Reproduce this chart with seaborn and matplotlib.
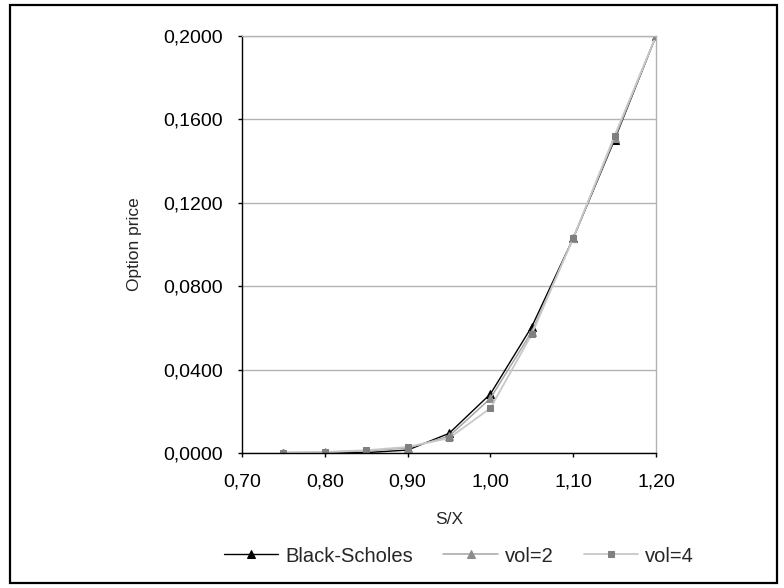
import matplotlib
matplotlib.use("Agg")
import matplotlib.pyplot as plt
import matplotlib.patches as mpatches
from matplotlib.ticker import FuncFormatter
import numpy as np
import pandas as pd
import seaborn as sns

# Moneyness S/X and option prices for each pricing approach
s_over_x = [0.75, 0.80, 0.85, 0.90, 0.95, 1.00, 1.05, 1.10, 1.15, 1.20]
black_scholes = [0.0000, 0.0000, 0.0002, 0.0014, 0.0094, 0.0283, 0.0606, 0.1030, 0.1503, 0.2000]
vol_2 = [0.0002, 0.0004, 0.0010, 0.0024, 0.0080, 0.0262, 0.0582, 0.1030, 0.1510, 0.2000]
vol_4 = [0.0002, 0.0005, 0.0013, 0.0029, 0.0071, 0.0215, 0.0570, 0.1031, 0.1522, 0.2000]

series_names = ["Black-Scholes", "vol=2", "vol=4"]
x_ticks = [0.70, 0.80, 0.90, 1.00, 1.10, 1.20]
y_ticks = [0.0000, 0.0400, 0.0800, 0.1200, 0.1600, 0.2000]

sns.set_style("white")
plt.rcParams["font.family"] = ["Liberation Sans", "DejaVu Sans"]
plt.rcParams["font.size"] = 14

df = pd.DataFrame({
    "S/X": s_over_x * 3,
    "price": black_scholes + vol_2 + vol_4,
    "series": np.repeat(series_names, len(s_over_x)),
})

fig = plt.figure(figsize=(7.84, 5.88), dpi=100)
ax = fig.add_axes([242 / 784, 1 - 453 / 588, 414 / 784, 417 / 588])

styles = {
    "Black-Scholes": dict(color="black", marker="^", markersize=6,
                          markerfacecolor="black", markeredgecolor="black", linewidth=1.0),
    "vol=2": dict(color="#A6A6A6", marker="^", markersize=6,
                  markerfacecolor="#8C8C8C", markeredgecolor="#8C8C8C", linewidth=1.1),
    "vol=4": dict(color="#C8C8C8", marker="s", markersize=5,
                  markerfacecolor="#808080", markeredgecolor="#808080", linewidth=1.3),
}

for name in series_names:
    sub = df[df["series"] == name]
    sns.lineplot(data=sub, x="S/X", y="price", ax=ax, label=name,
                 estimator=None, sort=True, **styles[name])

ax.set_xlim(0.70, 1.20)
ax.set_ylim(0.0, 0.2)
ax.set_xticks(x_ticks)
ax.set_yticks(y_ticks)
ax.xaxis.set_major_formatter(FuncFormatter(lambda v, p: f"{v:.2f}".replace(".", ",")))
ax.yaxis.set_major_formatter(FuncFormatter(lambda v, p: f"{v:.4f}".replace(".", ",")))

ax.yaxis.grid(True, color="#B3B3B3", linewidth=1.0)
ax.xaxis.grid(False)
ax.set_axisbelow(True)

for side in ["left", "bottom"]:
    ax.spines[side].set_color("black")
    ax.spines[side].set_linewidth(1.0)
for side in ["top", "right"]:
    ax.spines[side].set_color("#B3B3B3")
    ax.spines[side].set_linewidth(1.0)

ax.tick_params(axis="both", direction="out", length=3, width=1, color="black",
               labelsize=14, labelcolor="black")
ax.tick_params(axis="x", pad=12, bottom=True)
ax.tick_params(axis="y", pad=11, left=True)

ax.set_xlabel("S/X", fontsize=12.5, va="center")
ax.set_ylabel("Option price", fontsize=12.5, va="center")
ax.xaxis.set_label_coords(0.5, (453 - 519) / 417)
ax.yaxis.set_label_coords((135 - 242) / 414, 0.5)

handles, labels = ax.get_legend_handles_labels()
ax.get_legend().remove()
fig.legend(handles, labels, loc="center", bbox_to_anchor=(459 / 784, 1 - 556 / 588),
           ncol=3, frameon=False, fontsize=14.5, handlelength=2.7,
           handletextpad=0.35, columnspacing=1.5)

# Outer chart frame
frame = mpatches.Rectangle((10 / 784, 1 - 583 / 588), 767 / 784, 578 / 588,
                           transform=fig.transFigure, fill=False,
                           edgecolor="black", linewidth=1.6)
fig.patches.append(frame)

fig.savefig("out.png", dpi=100)
